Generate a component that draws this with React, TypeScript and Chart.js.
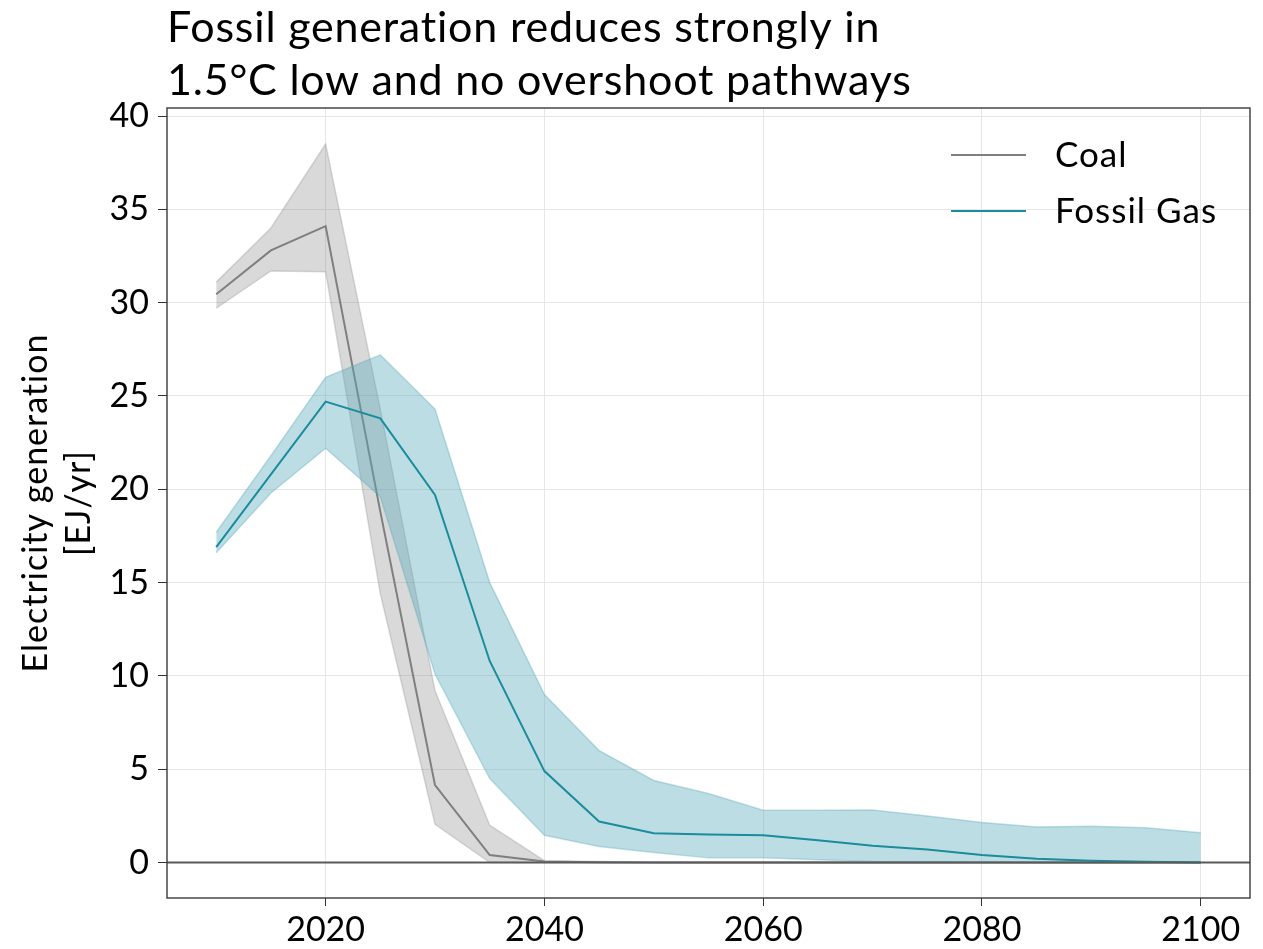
import React, { useEffect, useRef } from "react";
import { Chart, registerables } from "chart.js";

Chart.register(...registerables);

// Electricity generation in 1.5°C low / no overshoot pathways (EJ/yr)
const years = [2010, 2015, 2020, 2025, 2030, 2035, 2040, 2045, 2050, 2055, 2060, 2065, 2070, 2075, 2080, 2085, 2090, 2095, 2100];

const coalMedian = [30.45, 32.8, 34.1, 18.8, 4.15, 0.4, 0.05, 0.02, 0, 0, 0, 0, 0, 0, 0, 0, 0, 0, 0];
const coalLow = [29.7, 31.7, 31.65, 14.4, 2.05, 0, 0, 0, 0, 0, 0, 0, 0, 0, 0, 0, 0, 0, 0];
const coalHigh = [31.1, 34.0, 38.5, 24.3, 9.2, 2.0, 0.1, 0.05, 0, 0, 0, 0, 0, 0, 0, 0, 0, 0, 0];

const gasMedian = [16.9, 20.8, 24.7, 23.8, 19.7, 10.8, 4.9, 2.2, 1.57, 1.5, 1.46, 1.2, 0.9, 0.7, 0.4, 0.2, 0.1, 0.04, 0];
const gasLow = [16.6, 19.8, 22.2, 19.6, 10.1, 4.5, 1.46, 0.86, 0.54, 0.25, 0.25, 0.15, 0.05, 0.03, 0.02, 0, 0, 0, 0];
const gasHigh = [17.7, 21.8, 26.0, 27.2, 24.3, 15.0, 9.0, 6.0, 4.4, 3.7, 2.8, 2.8, 2.82, 2.5, 2.15, 1.9, 1.95, 1.86, 1.6];

const xTickValues = [2020, 2040, 2060, 2080, 2100];
const yTickValues = [0, 5, 10, 15, 20, 25, 30, 35, 40];

const titleLines = ["Fossil generation reduces strongly in", "1.5°C low and no overshoot pathways"];
const yAxisLines = ["Electricity generation", "[EJ/yr]"];

const COAL = "#7f7f7f";
const GAS = "#1a8c9c";
const FONT = "Lato, 'DejaVu Sans', sans-serif";

const pts = (vals: number[]) => vals.map((v, i) => ({ x: years[i], y: v }));

const decor = {
  id: "decor",
  afterDatasetsDraw(chart: any) {
    const { ctx, chartArea } = chart;
    const y0 = chart.scales.y.getPixelForValue(0);
    ctx.save();
    ctx.strokeStyle = "#5a5a5a";
    ctx.lineWidth = 2;
    ctx.beginPath();
    ctx.moveTo(chartArea.left, y0);
    ctx.lineTo(chartArea.right, y0);
    ctx.stroke();
    ctx.restore();
  },
  afterDraw(chart: any) {
    const { ctx, chartArea } = chart;
    ctx.save();
    // frame
    ctx.strokeStyle = "#3a3a3a";
    ctx.lineWidth = 1.4;
    ctx.strokeRect(chartArea.left, chartArea.top, chartArea.right - chartArea.left, chartArea.bottom - chartArea.top);

    // title
    ctx.fillStyle = "#000";
    ctx.textAlign = "left";
    ctx.textBaseline = "alphabetic";
    ctx.font = `43px ${FONT}`;
    ctx.letterSpacing = "0.8px";
    titleLines.forEach((t, i) => ctx.fillText(t, chartArea.left, 42 + i * 53));

    // y axis title
    const cy = (chartArea.top + chartArea.bottom) / 2;
    ctx.font = `34px ${FONT}`;
    ctx.letterSpacing = "1px";
    ctx.textAlign = "center";
    yAxisLines.forEach((t, i) => {
      ctx.save();
      ctx.translate(47 + i * 43, cy);
      ctx.rotate(-Math.PI / 2);
      ctx.fillText(t, 0, 0);
      ctx.restore();
    });

    // legend
    ctx.textAlign = "left";
    ctx.textBaseline = "middle";
    ctx.font = `35px ${FONT}`;
    ctx.letterSpacing = "1px";
    const items = chart.data.datasets.filter((d: any) => d.isMedian);
    items.forEach((d: any, i: number) => {
      const y = 155 + i * 56;
      ctx.strokeStyle = d.borderColor;
      ctx.lineWidth = 2;
      ctx.beginPath();
      ctx.moveTo(951, y);
      ctx.lineTo(1026, y);
      ctx.stroke();
      ctx.fillStyle = "#000";
      ctx.fillText(d.label, 1055, y + 1);
    });
    ctx.letterSpacing = "0px";
    ctx.restore();
  },
};

export default function App() {
  const ref = useRef<HTMLCanvasElement>(null);

  useEffect(() => {
    if (!ref.current) return;
    const chart = new Chart(ref.current, {
      type: "line",
      data: {
        datasets: [
          {
            label: "Coal",
            isMedian: true,
            data: pts(coalMedian),
            borderColor: COAL,
            borderWidth: 2,
            pointRadius: 0,
            fill: false,
            order: 3,
          } as any,
          {
            label: "Fossil Gas",
            isMedian: true,
            data: pts(gasMedian),
            borderColor: GAS,
            borderWidth: 2,
            pointRadius: 0,
            fill: false,
            order: 1,
          } as any,
          {
            label: "Coal high",
            data: pts(coalHigh),
            borderColor: "rgba(128,128,128,0.28)",
            backgroundColor: "rgba(128,128,128,0.3)",
            borderWidth: 1.5,
            pointRadius: 0,
            fill: "+1",
            order: 4,
          },
          {
            label: "Coal low",
            data: pts(coalLow),
            borderColor: "rgba(128,128,128,0.28)",
            borderWidth: 1.5,
            pointRadius: 0,
            fill: false,
            order: 4,
          },
          {
            label: "Gas high",
            data: pts(gasHigh),
            borderColor: "rgba(80,165,182,0.35)",
            backgroundColor: "rgba(90,170,187,0.4)",
            borderWidth: 1.5,
            pointRadius: 0,
            fill: "+1",
            order: 2,
          },
          {
            label: "Gas low",
            data: pts(gasLow),
            borderColor: "rgba(80,165,182,0.35)",
            borderWidth: 1.5,
            pointRadius: 0,
            fill: false,
            order: 2,
          },
        ],
      },
      options: {
        responsive: false,
        devicePixelRatio: 1,
        animation: false,
        events: [],
        layout: { padding: { top: 108, right: 13, left: 0, bottom: 0 } },
        plugins: {
          legend: { display: false },
          tooltip: { enabled: false },
          title: { display: false },
        },
        scales: {
          x: {
            type: "linear",
            min: 2005.5,
            max: 2104.5,
            afterBuildTicks: (axis: any) => {
              axis.ticks = xTickValues.map((v) => ({ value: v }));
            },
            afterFit: (axis: any) => {
              axis.height = 51;
            },
            grid: { color: "#e6e6e6", lineWidth: 1, tickColor: "#333", tickLength: 8 },
            border: { display: false },
            ticks: {
              color: "#000",
              font: { family: FONT, size: 34 },
              padding: 4,
              maxRotation: 0,
              callback: (v: any) => String(v),
            },
          },
          y: {
            type: "linear",
            min: -1.9,
            max: 40.43,
            afterBuildTicks: (axis: any) => {
              axis.ticks = yTickValues.map((v) => ({ value: v }));
            },
            afterFit: (axis: any) => {
              axis.width = 167;
            },
            grid: { color: "#e6e6e6", lineWidth: 1, tickColor: "#333", tickLength: 9 },
            border: { display: false },
            ticks: {
              color: "#000",
              font: { family: FONT, size: 34 },
              padding: 9,
              callback: (v: any) => String(v),
            },
          },
        },
      },
      plugins: [decor],
    });
    return () => chart.destroy();
  }, []);

  return (
    <div style={{ position: "fixed", left: 0, top: 0, width: 1263, height: 949, background: "#fff" }}>
      <canvas ref={ref} width={1263} height={949} />
    </div>
  );
}
